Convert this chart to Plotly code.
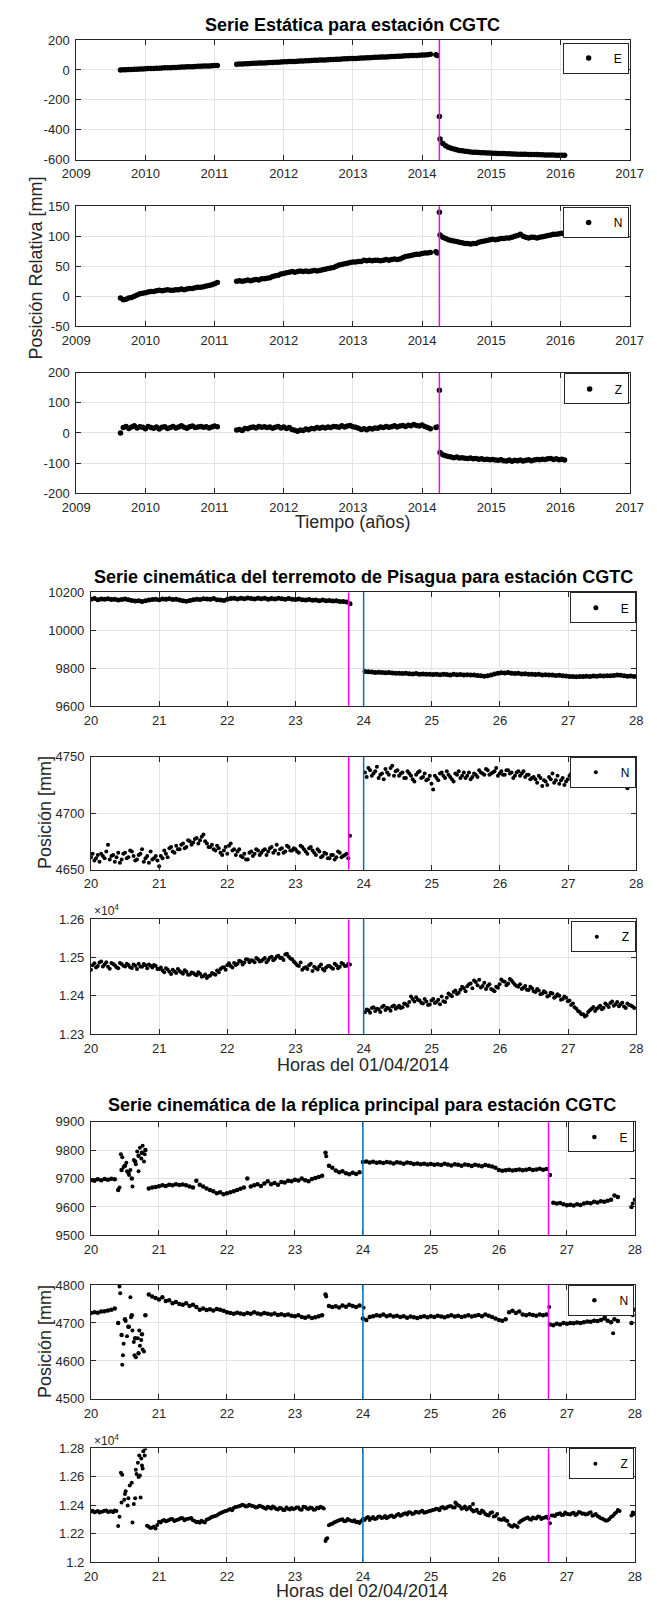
import plotly.graph_objects as go

W, H = 657, 1611
FONT = "Liberation Sans, Arial, Helvetica, sans-serif"
AXC = "#262626"
MAGENTA = "#ff00ff"
BLUE = "#0072bd"

# ================= DATA =================
# ---- Static series (years), sample step 0.04 yr ----
st_dt = 0.04
st_A_t0 = 2009.64
st_B_t0 = 2011.32
st_D_t0 = 2014.26
st_near_t = [2014.20, 2014.22, 2014.25]

stE_A = [0, 1, 2, 3, 3, 4, 5, 6, 7, 8, 9, 10, 10, 11, 12, 13, 14, 15, 15, 16,
         17, 18, 19, 20, 21, 21, 22, 23, 24, 25, 26, 27, 27, 28, 29, 30]
stE_B = [38, 39, 40, 41, 42, 43, 44, 45, 46, 46, 47, 48, 49, 50, 51, 52, 53, 54, 55, 56,
         56, 57, 58, 59, 60, 61, 62, 63, 64, 65, 66, 66, 67, 68, 69, 70, 71, 72, 73, 74,
         75, 76, 76, 77, 78, 79, 80, 81, 82, 83, 84, 85, 86, 86, 87, 88, 89, 90, 91, 92,
         93, 94, 95, 96, 96, 97, 98, 99, 100, 102, 105]
stE_near = [102, 96, -310]
stE_D = [-460, -490, -505, -515, -522, -528, -533, -537, -540, -543,
         -545, -547, -549, -550, -551, -552, -553, -554, -555, -556,
         -556, -557, -558, -558, -559, -560, -561, -561, -562, -562,
         -563, -563, -564, -564, -565, -565, -566, -566, -567, -567,
         -568, -568, -569, -569, -570, -570]

stN_A = [-3, -6, -5, -3, -2, 0, 2, 4, 5, 6, 7, 8, 8, 9, 10, 9, 10, 11, 10, 10,
         11, 11, 12, 11, 12, 13, 13, 14, 15, 15, 16, 17, 18, 19, 21, 23]
stN_B = [25, 26, 25, 26, 27, 26, 27, 28, 27, 29, 29, 30, 31, 33, 34, 35, 37, 38, 39, 40,
         41, 40, 41, 42, 41, 42, 41, 42, 43, 42, 43, 44, 45, 46, 47, 48, 50, 52, 53, 54,
         55, 56, 57, 57, 58, 58, 60, 59, 60, 59, 60, 60, 59, 60, 61, 60, 61, 62, 61, 62,
         64, 66, 67, 68, 69, 70, 70, 71, 72, 72, 73]
stN_near = [74, 72, 140]
stN_D = [102, 98, 96, 94, 93, 92, 91, 90, 89, 88, 88, 87, 88, 88, 90, 91, 92, 93, 94, 95,
         94, 95, 96, 96, 97, 97, 98, 100, 101, 103, 100, 98, 97, 98, 98, 97, 98, 99, 100, 101,
         102, 103, 103, 104, 105, 105]

stZ_A = [0, 18, 22, 15, 20, 24, 17, 21, 19, 14, 22, 18, 16, 20, 13, 19, 21, 15, 18, 22,
         17, 20, 24, 19, 16, 21, 23, 18, 20, 22, 19, 21, 17, 20, 23, 21]
stZ_B = [10, 12, 8, 15, 14, 18, 20, 17, 22, 19, 21, 18, 20, 16, 19, 22, 17, 20, 15, 18,
         12, 9, 6, 10, 8, 13, 11, 15, 14, 18, 16, 19, 17, 20, 18, 22, 21, 19, 24, 20,
         23, 25, 21, 19, 16, 12, 14, 11, 15, 13, 17, 16, 20, 18, 22, 19, 21, 24, 20, 23,
         25, 22, 26, 24, 28, 25, 23, 27, 22, 18, 14]
stZ_near = [18, 20, 142]
stZ_D = [-65, -72, -76, -78, -80, -82, -80, -83, -82, -84, -85, -83, -86, -85, -87, -86,
         -88, -87, -89, -88, -90, -91, -89, -92, -93, -90, -94, -91, -92, -90, -93, -91,
         -89, -92, -90, -88, -89, -87, -88, -86, -85, -88, -86, -89, -87, -90]

# ---- Pisagua kinematic series (hours of 01/04/2014), step 0.05 h ----
k_dt = 0.05
pis_pre_t0 = 20.0
pis_post_t0 = 24.02
pis_pre2_t0 = 20.025
pis_post2_t0 = 24.045

pisE_pre = [10165, 10168, 10162, 10166, 10164, 10167, 10163, 10165, 10160, 10163,
            10166, 10162, 10158, 10155, 10156, 10153, 10157, 10160, 10163, 10165,
            10162, 10166, 10164, 10167, 10163, 10165, 10160, 10156, 10154, 10158,
            10162, 10165, 10163, 10167, 10166, 10164, 10168, 10162, 10160, 10158,
            10165, 10168, 10170, 10166, 10169, 10167, 10171, 10168, 10166, 10170,
            10167, 10169, 10165, 10168, 10166, 10170, 10167, 10164, 10168, 10165,
            10163, 10166, 10162, 10160, 10163, 10159, 10161, 10157, 10160, 10156,
            10158, 10155, 10157, 10153, 10152, 10150, 10140]
pisE_post = [9783, 9781, 9780, 9778, 9779, 9777, 9776, 9778, 9775, 9774,
             9773, 9772, 9774, 9771, 9770, 9772, 9769, 9770, 9768, 9769,
             9767, 9768, 9766, 9769, 9767, 9765, 9768, 9766, 9767, 9765,
             9766, 9764, 9765, 9762, 9760, 9758, 9761, 9765, 9770, 9774,
             9776, 9775, 9777, 9774, 9772, 9773, 9770, 9771, 9768, 9769,
             9767, 9768, 9765, 9766, 9764, 9765, 9762, 9763, 9760, 9759,
             9757, 9756, 9755, 9757, 9756, 9758, 9757, 9759, 9758, 9760,
             9759, 9761, 9760, 9762, 9764, 9763, 9760, 9758, 9759, 9757]

pisN_pre = [4661, 4658, 4663, 4664, 4660, 4672, 4662, 4657, 4665, 4659,
            4665, 4661, 4666, 4658, 4663, 4668, 4660, 4656, 4659, 4662,
            4653, 4660, 4664, 4669, 4666, 4671, 4668, 4673, 4670, 4675,
            4674, 4678, 4676, 4681, 4673, 4670, 4668, 4671, 4665, 4667,
            4664, 4673, 4668, 4666, 4662, 4664, 4659, 4666, 4664, 4667,
            4665, 4668, 4666, 4670, 4667, 4664, 4669, 4666, 4670, 4667,
            4668, 4665, 4670, 4666, 4669, 4667, 4663, 4666, 4662, 4664,
            4660, 4663, 4661, 4665, 4662, 4664, 4680]
pisN_post = [4736, 4740, 4733, 4737, 4731, 4735, 4739, 4734, 4742, 4737,
             4733, 4736, 4731, 4735, 4730, 4734, 4737, 4732, 4729, 4733,
             4721, 4731, 4735, 4733, 4737, 4732, 4728, 4734, 4731, 4736,
             4733, 4730, 4735, 4732, 4736, 4734, 4738, 4735, 4737, 4733,
             4737, 4734, 4738, 4736, 4733, 4737, 4735, 4732, 4734, 4731,
             4730, 4733, 4724, 4728, 4732, 4735, 4729, 4726, 4731, 4728,
             4733, 4736, 4739, 4735, 4741, 4738, 4736, 4742, 4739, 4737,
             4741, 4738, 4735, 4739, 4736, 4733, 4737, 4722, 4738, 4727]
pisN_pre2 = [4664, 4660, 4657, 4662, 4666, 4659, 4663, 4661, 4656, 4664,
             4660, 4667, 4662, 4659, 4664, 4657, 4662, 4666, 4660, 4658,
             4662, 4667, 4661, 4670, 4665, 4668, 4672, 4669, 4676, 4672,
             4677, 4673, 4679, 4675, 4670, 4672, 4667, 4669, 4663, 4670,
             4671, 4667, 4663, 4668, 4661, 4659, 4665, 4662, 4668, 4663,
             4667, 4663, 4669, 4665, 4672, 4668, 4665, 4671, 4667, 4669,
             4666, 4671, 4668, 4664, 4670, 4665, 4668, 4661, 4665, 4660,
             4663, 4659, 4666, 4661, 4663, 4660]
pisN_post2 = [4732, 4738, 4735, 4741, 4734, 4730, 4736, 4740, 4733, 4738,
              4735, 4731, 4737, 4733, 4728, 4736, 4731, 4735, 4730, 4726,
              4733, 4729, 4736, 4731, 4734, 4730, 4735, 4737, 4733, 4731,
              4736, 4732, 4734, 4738, 4735, 4739, 4734, 4736, 4740, 4735,
              4734, 4738, 4735, 4731, 4736, 4733, 4737, 4734, 4730, 4732,
              4727, 4731, 4729, 4725, 4730, 4727, 4733, 4729, 4725, 4730,
              4735, 4732, 4738, 4740, 4736, 4743, 4738, 4735, 4740, 4737,
              4742, 4736, 4740, 4734, 4738, 4731, 4735, 4729, 4733]

pisZ_pre = [12468, 12485, 12478, 12490, 12482, 12476, 12486, 12480, 12472, 12483,
            12477, 12481, 12473, 12479, 12484, 12476, 12480, 12482, 12474, 12478,
            12470, 12466, 12472, 12463, 12468, 12460, 12465, 12458, 12463, 12456,
            12460, 12454, 12458, 12452, 12447, 12453, 12458, 12466, 12470, 12475,
            12480, 12478, 12486, 12484, 12490, 12487, 12495, 12493, 12488, 12496,
            12491, 12499, 12494, 12502, 12497, 12505, 12500, 12508, 12503, 12496,
            12485, 12478, 12468, 12475, 12480, 12465, 12472, 12477, 12470, 12474,
            12478, 12471, 12480, 12476, 12483, 12479, 12482]
pisZ_post = [12357, 12362, 12368, 12360, 12365, 12371, 12363, 12367, 12372, 12366,
             12374, 12370, 12378, 12384, 12392, 12396, 12388, 12380, 12385, 12377,
             12392, 12384, 12378, 12386, 12395, 12402, 12410, 12405, 12416, 12420,
             12425, 12432, 12440, 12428, 12422, 12434, 12426, 12418, 12412, 12421,
             12443, 12437, 12432, 12440, 12429, 12424, 12418, 12426, 12415, 12420,
             12410, 12414, 12406, 12409, 12401, 12406, 12398, 12400, 12392, 12395,
             12388, 12380, 12366, 12358, 12352, 12349, 12362, 12371, 12366, 12374,
             12369, 12376, 12381, 12374, 12384, 12378, 12372, 12380, 12375, 12368]
pisZ_pre2 = [12480, 12474, 12487, 12477, 12488, 12471, 12483, 12475, 12486, 12479,
             12484, 12475, 12482, 12470, 12477, 12483, 12472, 12479, 12481, 12470,
             12474, 12462, 12469, 12457, 12464, 12470, 12461, 12467, 12455, 12461,
             12456, 12462, 12450, 12456, 12451, 12460, 12455, 12462, 12474, 12468,
             12485, 12474, 12481, 12492, 12482, 12496, 12488, 12492, 12499, 12490,
             12495, 12488, 12500, 12493, 12503, 12499, 12494, 12510, 12498, 12490,
             12480, 12487, 12473, 12470, 12484, 12476, 12469, 12482, 12466, 12478,
             12474, 12484, 12472, 12486, 12478, 12484]
pisZ_post2 = [12364, 12356, 12370, 12366, 12358, 12374, 12369, 12361, 12375, 12370,
              12368, 12380, 12374, 12398, 12385, 12390, 12382, 12392, 12376, 12388,
              12381, 12390, 12398, 12384, 12406, 12399, 12414, 12408, 12424, 12412,
              12430, 12420, 12436, 12442, 12426, 12418, 12430, 12415, 12424, 12430,
              12438, 12428, 12444, 12434, 12426, 12430, 12421, 12416, 12424, 12412,
              12418, 12404, 12412, 12398, 12408, 12395, 12404, 12390, 12398, 12386,
              12376, 12370, 12360, 12352, 12346, 12358, 12366, 12360, 12370, 12365,
              12380, 12371, 12385, 12378, 12373, 12382, 12368, 12376, 12372]

# ---- Aftershock kinematic series (hours of 02/04/2014), step 0.05 h, 20.00..28.00 ----
rep_t0 = 20.0
rep2_t0 = 20.025
N_ = None
repE = [9695, 9692, 9697, 9694, 9698, 9696, 9699, 9697, 9660, 9730, 9745, 9720, 9700, 9760, 9780, 9790, 9800, 9665, 9668, 9670,
        9673, 9676, 9674, 9678, 9676, 9680, 9677, 9679, 9676, 9672, 9668, 9692, 9678, 9672, 9665, 9660, 9655, 9648, 9652, 9645,
        9648, 9652, 9655, 9660, 9664, 9668, 9700, 9672, 9676, 9680, 9674, 9682, 9690, 9680, 9684, 9678, 9688, 9686, 9692, 9690,
        9696, 9693, 9700, 9694, 9690, 9698, 9702, 9705, 9710, 9790, 9745, 9738, 9728, 9722, 9725, 9718, 9715, 9720, 9716, 9722,
        9758, 9760, 9756, 9759, 9755, 9757, 9754, 9758, 9756, 9753, 9757, 9755, 9752, 9756, 9754, 9751, 9753, 9750, 9752, 9749,
        9751, 9748, 9750, 9747, 9752, 9749, 9746, 9750, 9748, 9745, 9749, 9747, 9744, 9748, 9746, 9743, 9747, 9745, 9742, 9738,
        9730, 9727, 9729, 9731, 9728, 9730, 9732, 9729, 9731, 9733, 9730, 9732, 9734, 9731, 9733, 9712, 9615, 9612, 9614, 9610,
        9606, 9608, 9605, 9610, 9607, 9612, 9615, 9613, 9618, 9616, 9620, 9618, 9622, 9625, 9640, 9635, N_, N_, N_, 9600,
        9625]
repE_extra_t = [20.42, 20.44, 20.46, 20.48, 20.52, 20.53, 20.56, 20.58, 20.61, 20.63, 20.66, 20.68, 20.70, 20.72,
                20.74, 20.76, 20.78, 20.79, 23.46, 27.97]
repE_extra = [9668, 9785, 9775, 9740, 9755, 9725, 9712, 9730, 9672, 9765, 9750, 9795, 9725, 9808,
              9770, 9815, 9760, 9785, 9778, 9612]

repN = [4726, 4728, 4727, 4730, 4731, 4733, 4735, 4738, 4700, 4668, 4710, 4690, 4720, 4660, 4620, 4670, 4720, 4775, 4770, 4766,
        4762, 4768, 4758, 4760, 4752, 4755, 4750, 4748, 4752, 4745, 4748, 4742, 4735, 4738, 4734, 4736, 4733, 4737, 4735, 4732,
        4728, 4726, 4724, 4727, 4725, 4723, 4726, 4724, 4728, 4725, 4723, 4726, 4724, 4722, 4725, 4721, 4723, 4720, 4722, 4719,
        4718, 4720, 4716, 4714, 4717, 4713, 4715, 4718, 4720, 4775, 4745, 4742, 4744, 4741, 4746, 4743, 4748, 4745, 4742, 4746,
        4712, 4708, 4716, 4718, 4720, 4719, 4722, 4718, 4720, 4717, 4719, 4716, 4718, 4714, 4717, 4715, 4713, 4716, 4718, 4715,
        4718, 4716, 4719, 4717, 4715, 4718, 4720, 4717, 4719, 4716, 4718, 4720, 4717, 4719, 4721, 4718, 4722, 4719, 4716, 4712,
        4708, 4706, 4710, 4728, 4732, 4726, 4730, 4722, 4720, 4723, 4721, 4719, 4722, 4720, 4722, 4696, 4694, 4698, 4696, 4700,
        4698, 4700, 4699, 4701, 4700, 4702, 4704, 4703, 4706, 4705, 4708, 4712, 4706, 4702, 4710, 4705, N_, N_, N_, 4700,
        4735]
repN_extra_t = [20.42, 20.43, 20.46, 20.47, 20.48, 20.51, 20.53, 20.56, 20.58, 20.59, 20.61, 20.63, 20.64, 20.66,
                20.69, 20.71, 20.72, 20.74, 20.76, 20.78, 23.46, 24.01, 26.74, 27.56, 27.68, 27.97]
repN_extra = [4796, 4778, 4590, 4615, 4645, 4705, 4665, 4690, 4768, 4715, 4680, 4650, 4615, 4610,
              4660, 4680, 4640, 4655, 4630, 4625, 4770, 4740, 4742, 4715, 4673, 4720]

repZ = [12358, 12352, 12360, 12355, 12362, 12354, 12359, 12364, 12255, 12420, 12480, 12450, 12560, 12450, 12600, 12680, 12800, 12250, 12245, 12238,
        12285, 12292, 12288, 12298, 12302, 12295, 12305, 12310, 12302, 12308, 12296, 12282, 12278, 12285, 12300, 12310, 12322, 12330, 12345, 12355,
        12362, 12375, 12382, 12390, 12398, 12402, 12395, 12400, 12392, 12388, 12395, 12382, 12390, 12378, 12385, 12372, 12380, 12368, 12376, 12382,
        12378, 12385, 12370, 12388, 12375, 12382, 12372, 12380, 12385, 12150, 12260, 12272, 12285, 12296, 12302, 12290, 12298, 12288, 12282, 12276,
        12305, 12312, 12298, 12318, 12308, 12322, 12315, 12310, 12325, 12318, 12335, 12328, 12342, 12336, 12350, 12344, 12352, 12358, 12348, 12355,
        12362, 12370, 12375, 12384, 12378, 12390, 12395, 12385, 12402, 12376, 12392, 12380, 12370, 12362, 12350, 12365, 12340, 12330, 12352, 12325,
        12305, 12300, 12296, 12265, 12250, 12258, 12280, 12298, 12310, 12305, 12315, 12308, 12318, 12312, 12320, 12275, 12330, 12338, 12345, 12335,
        12342, 12336, 12348, 12340, 12350, 12344, 12338, 12352, 12332, 12325, 12310, 12300, 12295, 12318, 12340, 12368, N_, N_, N_, 12330,
        12345]
repZ2 = [12362, 12356, 12350, 12358, 12365, 12357, 12352, 12361, N_, N_, N_, N_, N_, N_, N_, N_, 12258, 12242, 12250, 12262,
         12280, 12298, 12292, 12305, 12290, 12300, 12312, 12296, 12306, 12312, 12290, 12285, 12292, 12280, 12305, 12318, 12326, 12338, 12350, 12360,
         12370, 12366, 12388, 12395, 12404, 12392, 12405, 12396, 12385, 12398, 12388, 12376, 12385, 12392, 12375, 12382, 12368, 12386, 12372, 12375,
         12385, 12372, 12390, 12378, 12386, 12370, 12383, 12390, 12378, 12170, 12268, 12280, 12290, 12300, 12288, 12305, 12292, 12296, 12285, 12290,
         12298, 12318, 12310, 12304, 12320, 12312, 12326, 12318, 12330, 12322, 12340, 12332, 12345, 12352, 12340, 12355, 12348, 12362, 12352, 12360,
         12368, 12376, 12366, 12388, 12382, 12394, 12386, 12410, 12395, 12382, 12372, 12390, 12358, 12370, 12345, 12355, 12332, 12346, 12322, 12340,
         12300, 12310, 12290, 12255, 12262, 12248, 12290, 12305, 12316, 12300, 12310, 12322, 12305, 12316, 12310, 12330, 12325, 12340, 12332, 12350,
         12338, 12345, 12332, 12354, 12342, 12336, 12346, 12328, 12340, 12318, 12306, 12292, 12305, 12325, 12350, 12360, N_, N_, N_, 12338]
repZ_extra_t = [20.42, 20.44, 20.46, 20.49, 20.51, 20.54, 20.57, 20.61, 20.63, 20.66, 20.67, 20.69, 20.71, 20.72,
                20.73, 20.74, 20.76, 20.77, 20.79, 23.46, 25.36, 25.62, 27.97]
repZ_extra = [12320, 12630, 12615, 12440, 12500, 12400, 12540, 12280, 12410, 12650, 12620, 12700, 12750, 12610,
              12455, 12730, 12660, 12780, 12750, 12165, 12420, 12410, 12350]

# ---- event times ----
static_quake = [2014.25]
pisagua_quake = [23.78]
day_break = [24.0]
aftershock = [26.73]

# ---- ticks ----
yr_ticks = [2009, 2010, 2011, 2012, 2013, 2014, 2015, 2016, 2017]
hr_ticks = [20, 21, 22, 23, 24, 25, 26, 27, 28]
stE_ticks = [-600, -400, -200, 0, 200]
stN_ticks = [-50, 0, 50, 100, 150]
stZ_ticks = [-200, -100, 0, 100, 200]
pisE_ticks = [9600, 9800, 10000, 10200]
pisN_ticks = [4650, 4700, 4750]
pisZ_ticks = [12300, 12400, 12500, 12600]
pisZ_text = ["1.23", "1.24", "1.25", "1.26"]
repE_ticks = [9500, 9600, 9700, 9800, 9900]
repN_ticks = [4500, 4600, 4700, 4800]
repZ_ticks = [12000, 12200, 12400, 12600, 12800]
repZ_text = ["1.2", "1.22", "1.24", "1.26", "1.28"]


# ================= HELPERS =================
def tgrid(t0, n, dt):
    return [round(t0 + i * dt, 4) for i in range(n)]


def px_x(p):
    return p / W


def px_y(p):
    return 1 - p / H


def axn(k, kind):
    return kind if k == 1 else f"{kind}{k}"


fig = go.Figure()

# axis boxes in pixels: (left, right, top, bottom)
boxes = [
    (65, 643, 33.3, 154.3), (65, 643, 201, 322.3), (65, 643, 369.3, 490.7),
    (80.4, 650, 591, 705.7), (80.4, 650, 756.7, 870.7), (80.4, 650, 921, 1036.7),
    (80.4, 648.5, 1125, 1240), (80.4, 648.5, 1290, 1405), (80.4, 648.5, 1455, 1570),
]
# legend anchor: right edge and vertical centre (px), compensated for plotly's legend box offset
legend_pos = [(642, 51.5), (642, 217.5), (642, 385.5), (649.5, 606.5), (649.5, 772.5), (649.5, 938.5),
              (648, 1140.5), (648, 1305.5), (648, 1470.5)]


def add(k, xs, ys, name, size, show=True):
    fig.add_trace(go.Scatter(x=xs, y=ys, mode="markers", name=name, showlegend=show,
                             marker=dict(color="black", size=size, line=dict(width=0)),
                             xaxis=axn(k, "x"), yaxis=axn(k, "y"), legend=axn(k, "legend")))


static_sets = [
    ("E", stE_A, stE_B, stE_near, stE_D),
    ("N", stN_A, stN_B, stN_near, stN_D),
    ("Z", stZ_A, stZ_B, stZ_near, stZ_D),
]
for i, (name, a, b, nr, d) in enumerate(static_sets):
    xs = tgrid(st_A_t0, len(a), st_dt) + tgrid(st_B_t0, len(b), st_dt) + st_near_t + tgrid(st_D_t0, len(d), st_dt)
    add(i + 1, xs, a + b + nr + d, name, 5.5)

# Pisagua
add(4, tgrid(pis_pre_t0, len(pisE_pre), k_dt) + tgrid(pis_post_t0, len(pisE_post), k_dt),
    pisE_pre + pisE_post, "E", 5)
add(5, tgrid(pis_pre_t0, len(pisN_pre), k_dt) + tgrid(pis_post_t0, len(pisN_post), k_dt),
    pisN_pre + pisN_post, "N", 4)
add(5, tgrid(pis_pre2_t0, len(pisN_pre2), k_dt) + tgrid(pis_post2_t0, len(pisN_post2), k_dt),
    pisN_pre2 + pisN_post2, "N", 4, show=False)
add(6, tgrid(pis_pre_t0, len(pisZ_pre), k_dt) + tgrid(pis_post_t0, len(pisZ_post), k_dt),
    pisZ_pre + pisZ_post, "Z", 4)
add(6, tgrid(pis_pre2_t0, len(pisZ_pre2), k_dt) + tgrid(pis_post2_t0, len(pisZ_post2), k_dt),
    pisZ_pre2 + pisZ_post2, "Z", 4, show=False)

# Aftershock
add(7, tgrid(rep_t0, len(repE), k_dt), repE, "E", 4.5)
add(7, repE_extra_t, repE_extra, "E", 4, show=False)
add(8, tgrid(rep_t0, len(repN), k_dt), repN, "N", 4.5)
add(8, repN_extra_t, repN_extra, "N", 4, show=False)
add(9, tgrid(rep_t0, len(repZ), k_dt), repZ, "Z", 4)
add(9, tgrid(rep2_t0, len(repZ2), k_dt), repZ2, "Z", 4, show=False)
add(9, repZ_extra_t, repZ_extra, "Z", 4, show=False)

# axes
yspecs = [
    ([-600, 200], stE_ticks, None), ([-50, 150], stN_ticks, None), ([-200, 200], stZ_ticks, None),
    ([9600, 10200], pisE_ticks, None), ([4650, 4750], pisN_ticks, None), ([12300, 12600], pisZ_ticks, pisZ_text),
    ([9500, 9900], repE_ticks, None), ([4500, 4800], repN_ticks, None), ([12000, 12800], repZ_ticks, repZ_text),
]
common = dict(showline=True, linecolor=AXC, linewidth=1, mirror="ticks", ticks="inside",
              ticklen=5, tickcolor=AXC, tickwidth=1, showgrid=True, gridcolor="#e3e3e3", gridwidth=1,
              zeroline=False, tickfont=dict(family=FONT, size=13, color=AXC), fixedrange=True)

layout = dict(width=W, height=H, margin=dict(l=0, r=0, t=0, b=0),
              paper_bgcolor="white", plot_bgcolor="white", font=dict(family=FONT, color=AXC),
              showlegend=True)
for i in range(9):
    k = i + 1
    l, r, t, b = boxes[i]
    xr = [2009, 2017] if i < 3 else [20, 28]
    xt = yr_ticks if i < 3 else hr_ticks
    xa = dict(common, domain=[px_x(l), px_x(r)], range=xr, tickvals=xt, ticktext=[str(v) for v in xt],
              anchor=axn(k, "y"), ticklabelstandoff=2)
    yr, yt, ytxt = yspecs[i]
    ya = dict(common, domain=[px_y(b), px_y(t)], range=yr, tickvals=yt,
              ticktext=ytxt if ytxt else [str(v) for v in yt],
              anchor=axn(k, "x"), ticklabelstandoff=3)
    layout[axn(k, "xaxis")] = xa
    layout[axn(k, "yaxis")] = ya
    lx, ly = legend_pos[i]
    layout[axn(k, "legend")] = dict(
        x=px_x(lx), y=px_y(ly), xanchor="right", yanchor="middle", bgcolor="white",
        bordercolor=AXC, borderwidth=1, font=dict(family=FONT, size=12, color="black"),
        itemsizing="trace", itemwidth=40)

fig.update_layout(**layout)

# event lines
shapes = []


def vline(k, xv, color):
    return dict(type="line", xref=axn(k, "x"), yref=axn(k, "y") + " domain", x0=xv, x1=xv, y0=0, y1=1,
                line=dict(color=color, width=1.5), layer="above")


for k in (1, 2, 3):
    for xv in static_quake:
        shapes.append(vline(k, xv, MAGENTA))
for k in (4, 5, 6):
    for xv in pisagua_quake:
        shapes.append(vline(k, xv, MAGENTA))
    for xv in day_break:
        shapes.append(vline(k, xv, BLUE))
for k in (7, 8, 9):
    for xv in day_break:
        shapes.append(vline(k, xv, BLUE))
    for xv in aftershock:
        shapes.append(vline(k, xv, MAGENTA))
fig.update_layout(shapes=shapes)

# texts
ann = []


def text(xp, yp, s, size, bold=False, angle=0, xanchor="center", color="black"):
    ann.append(dict(x=px_x(xp), y=px_y(yp), xref="paper", yref="paper", showarrow=False,
                    text=f"<b>{s}</b>" if bold else s, textangle=angle, xanchor=xanchor, yanchor="middle",
                    font=dict(family=FONT, size=size, color=color)))


text(354, 18, "Serie Estática para estación CGTC", 18, bold=True)
text(365.5, 575, "Serie cinemática del terremoto de Pisagua para estación CGTC", 18, bold=True)
text(363, 1108, "Serie cinemática de la réplica principal para estación CGTC", 18, bold=True)
text(354, 520, "Tiempo (años)", 18, color=AXC)
text(365, 1068, "Horas del 01/04/2014", 18, color=AXC)
text(364, 1599, "Horas del 02/04/2014", 18, color=AXC)
text(22, 264, "Posición Relativa [mm]", 18, angle=-90, color=AXC)
text(33, 813, "Posición [mm]", 18, angle=-90, color=AXC)
text(33, 1347, "Posición [mm]", 18, angle=-90, color=AXC)
text(81, 911, "×10<sup>4</sup>", 12, xanchor="left", color=AXC)
text(81, 1446, "×10<sup>4</sup>", 12, xanchor="left", color=AXC)
fig.update_layout(annotations=ann)

fig.write_html("out.html")
